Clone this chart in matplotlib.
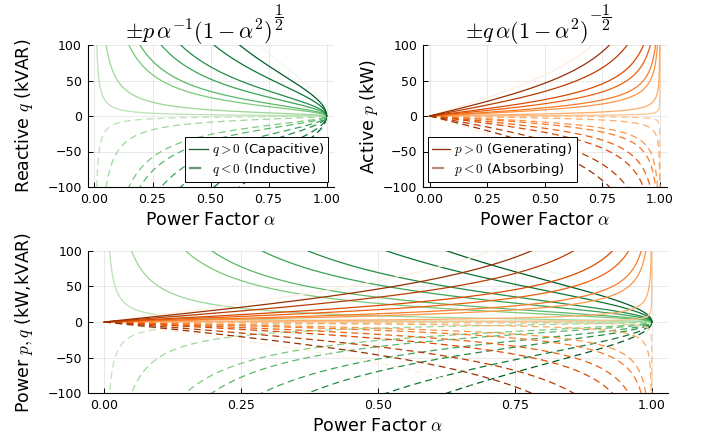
import numpy as np
import matplotlib
matplotlib.use("Agg")
import matplotlib.pyplot as plt
from matplotlib.lines import Line2D

plt.rcParams['font.family'] = ['DejaVu Sans']
plt.rcParams['mathtext.fontset'] = 'cm'

# parameter levels (kW for p, kVAR for q), in plotting order
p_levels = [100, 1, 5, 15, 20, 30, 40, 60, 80]
q_levels = [100, 1, 5, 15, 20, 30, 40, 60, 80]
xticks = [0.0, 0.25, 0.5, 0.75, 1.0]
xtick_labels = ["0.00", "0.25", "0.50", "0.75", "1.00"]
yticks = [-100, -50, 0, 50, 100]
ytick_labels = ["\u2212100", "\u221250", "0", "50", "100"]

alpha = np.concatenate([np.linspace(1e-4, 0.02, 400), np.linspace(0.02, 0.98, 1500),
                        np.linspace(0.98, 1 - 1e-6, 800)])

cpos = [0.05] + list(np.linspace(0.3, 0.92, len(p_levels) - 1))
greens = [plt.get_cmap('Greens')(v) for v in cpos]
oranges = [plt.get_cmap('Oranges')(v) for v in cpos]

W, H = 701, 445
fig = plt.figure(figsize=(W/100, H/100), dpi=100)
ax1 = fig.add_axes([87.5/W, 1-187/H, (333.6-87.5)/W, 142/H])
ax2 = fig.add_axes([422.7/W, 1-187/H, (666.9-422.7)/W, 142/H])
ax3 = fig.add_axes([87.7/W, 1-393.3/H, (668.3-87.7)/W, (393.3-250.7)/H])

LW = 0.9
DASH = (0, (5.5, 3.5))

def q_of(p):
    return p * np.sqrt(1 - alpha**2) / alpha

def p_of(q):
    return q * alpha / np.sqrt(1 - alpha**2)

def draw_green(ax):
    for p, c in zip(p_levels, greens):
        ax.plot(alpha, q_of(p), color=c, lw=LW)
        ax.plot(alpha, -q_of(p), color=c, lw=LW, ls=DASH)

def draw_orange(ax):
    for q, c in zip(q_levels, oranges):
        ax.plot(alpha, p_of(q), color=c, lw=LW)
        ax.plot(alpha, -p_of(q), color=c, lw=LW, ls=DASH)

draw_green(ax1)
draw_orange(ax2)
draw_green(ax3)
draw_orange(ax3)

for ax in (ax1, ax2, ax3):
    ax.set_xlim(-0.03, 1.03)
    ax.set_ylim(-100, 100)
    ax.set_xticks(xticks)
    ax.set_xticklabels(xtick_labels)
    ax.set_yticks(yticks)
    ax.set_yticklabels(ytick_labels)
    ax.grid(True, color='#000000', alpha=0.1, lw=0.6)
    ax.set_axisbelow(True)
    for s in ('top', 'right'):
        ax.spines[s].set_visible(False)
    for s in ('left', 'bottom'):
        ax.spines[s].set_linewidth(0.8)
    ax.tick_params(direction='in', length=3.5, width=0.7, labelsize=9, pad=4)
    ax.set_xlabel(r"Power Factor $\alpha$", fontsize=12.5, labelpad=4)

ax1.set_ylabel(r"Reactive $q$ (kVAR)", fontsize=12.5, labelpad=9)
ax2.set_ylabel(r"Active $p$ (kW)", fontsize=12.5, labelpad=2)
ax3.set_ylabel(r"Power $p,q$ (kW,kVAR)", fontsize=12.5, labelpad=9)

# titles: base expression with a full-size exponent fraction raised above it
fig.canvas.draw()
renderer = fig.canvas.get_renderer()
t1 = fig.text(125/W, 1-40/H, r"$\pm p\,\alpha^{-1}(1-\alpha^2)$", fontsize=16,
              ha='left', va='baseline')
bb1 = t1.get_window_extent(renderer)
fig.text((bb1.x1 + 2)/W, 1-17.5/H, r"$\dfrac{1}{2}$", fontsize=11.5, ha='left', va='center')
t2 = fig.text(465/W, 1-40/H, r"$\pm q\,\alpha(1-\alpha^2)$", fontsize=16,
              ha='left', va='baseline')
bb2 = t2.get_window_extent(renderer)
fig.text((bb2.x1 + 1)/W, 1-17.5/H, r"$-\dfrac{1}{2}$", fontsize=11.5, ha='left', va='center')

h1 = [Line2D([], [], color='#1d5c33', lw=LW),
      Line2D([], [], color='#6d9274', lw=1.6, ls=DASH)]
leg1 = ax1.legend(h1, [r"$q > 0$ (Capacitive)", r"$q < 0$ (Inductive)"],
                  loc='lower right', fontsize=9.5, frameon=True, fancybox=False,
                  edgecolor='black', framealpha=1, handlelength=1.4, handletextpad=0.3,
                  borderpad=0.3, labelspacing=0.2, borderaxespad=0.4)
leg1.get_frame().set_linewidth(0.7)

h2 = [Line2D([], [], color='#8a3007', lw=LW),
      Line2D([], [], color='#b98a78', lw=1.6, ls=DASH)]
leg2 = ax2.legend(h2, [r"$p > 0$ (Generating)", r"$p < 0$ (Absorbing)"],
                  loc='lower left', fontsize=9.5, frameon=True, fancybox=False,
                  edgecolor='black', framealpha=1, handlelength=1.4, handletextpad=0.3,
                  borderpad=0.3, labelspacing=0.2, borderaxespad=0.4)
leg2.get_frame().set_linewidth(0.7)

fig.savefig("out.png", dpi=100)
